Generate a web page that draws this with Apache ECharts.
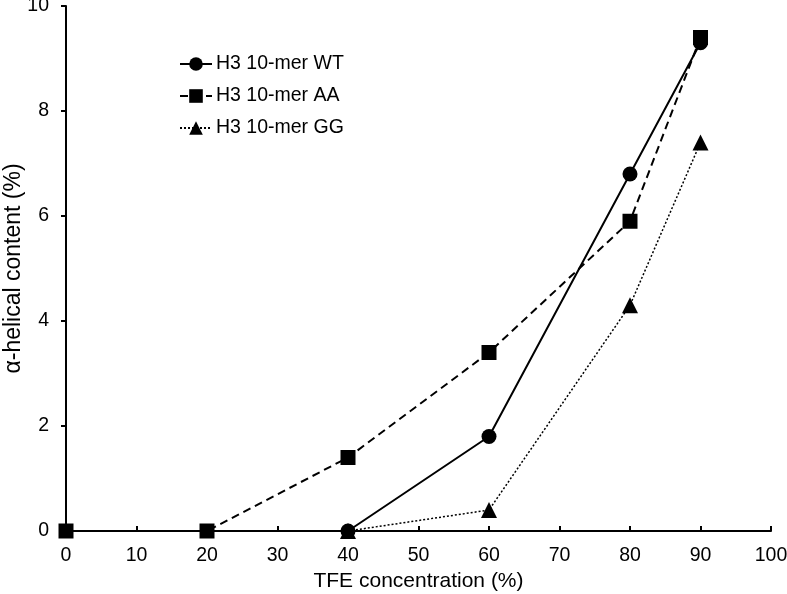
<!DOCTYPE html>
<html>
<head>
<meta charset="utf-8">
<script src="https://cdn.jsdelivr.net/npm/echarts@6/dist/echarts.min.js"></script>
<style>
html,body{margin:0;padding:0;background:#fff;}
#chart{width:787px;height:594px;}
</style>
</head>
<body>
<div id="chart"></div>
<script>
const seriesNames = ['H3 10-mer WT', 'H3 10-mer AA', 'H3 10-mer GG'];
const wtX = [40, 60, 80, 90];
const wtY = [0, 1.8, 6.8, 9.3];
const aaX = [0, 20, 40, 60, 80, 90];
const aaY = [0, 0, 1.4, 3.4, 5.9, 9.4];
const ggX = [40, 60, 80, 90];
const ggY = [0, 0.4, 4.3, 7.4];
const xTicks = [0, 10, 20, 30, 40, 50, 60, 70, 80, 90, 100];
const yTicks = [0, 2, 4, 6, 8, 10];

const FONT = '"Liberation Sans", Arial, Helvetica, sans-serif';
const pair = (xs, ys) => xs.map((x, i) => [x, ys[i]]);

const chart = echarts.init(document.getElementById('chart'), null, {renderer: 'canvas'});
chart.setOption({
  animation: false,
  backgroundColor: '#fff',
  textStyle: {fontFamily: FONT, color: '#000'},
  grid: {left: 66, right: 16, top: 6, bottom: 63, containLabel: false, outerBoundsMode: 'none'},
  legend: {
    orient: 'vertical',
    left: 179,
    top: 54,
    padding: 0,
    itemWidth: 32,
    itemHeight: 17,
    itemGap: 12,
    textStyle: {fontFamily: FONT, fontSize: 19.5, color: '#000', lineHeight: 20, padding: [0, 0, 0, -1]},
    data: seriesNames
  },
  xAxis: {
    type: 'value',
    min: xTicks[0],
    max: xTicks[xTicks.length - 1],
    interval: 10,
    name: 'TFE concentration (%)',
    nameLocation: 'middle',
    nameGap: 40,
    nameMoveOverlap: false,
    nameTextStyle: {fontFamily: FONT, fontSize: 21, color: '#000'},
    axisLine: {lineStyle: {color: '#000', width: 2}},
    axisTick: {inside: true, length: 5, lineStyle: {color: '#000', width: 2}},
    axisLabel: {fontFamily: FONT, fontSize: 19.5, color: '#000', margin: 15},
    splitLine: {show: false}
  },
  yAxis: {
    type: 'value',
    min: yTicks[0],
    max: yTicks[yTicks.length - 1],
    interval: 2,
    name: 'α-helical content (%)',
    nameLocation: 'middle',
    nameGap: 41,
    nameMoveOverlap: false,
    nameTextStyle: {fontFamily: FONT, fontSize: 23, color: '#000'},
    axisLine: {show: true, lineStyle: {color: '#000', width: 2}},
    axisTick: {show: true, inside: false, length: 5, lineStyle: {color: '#000', width: 2}},
    axisLabel: {fontFamily: FONT, fontSize: 19.5, color: '#000', margin: 17},
    splitLine: {show: false}
  },
  series: [
    {
      name: seriesNames[0], type: 'line', data: pair(wtX, wtY),
      symbol: 'circle', symbolSize: 15,
      lineStyle: {color: '#000', width: 2, type: 'solid'},
      itemStyle: {color: '#000'}, z: 3
    },
    {
      name: seriesNames[1], type: 'line', data: pair(aaX, aaY),
      symbol: 'rect', symbolSize: 15,
      lineStyle: {color: '#000', width: 2, type: [8, 5]},
      itemStyle: {color: '#000'}, z: 4
    },
    {
      name: seriesNames[2], type: 'line', data: pair(ggX, ggY),
      symbol: 'triangle', symbolSize: 16,
      lineStyle: {color: '#000', width: 1.5, type: [2, 2]},
      itemStyle: {color: '#000'}, z: 2
    }
  ]
});
</script>
</body>
</html>
